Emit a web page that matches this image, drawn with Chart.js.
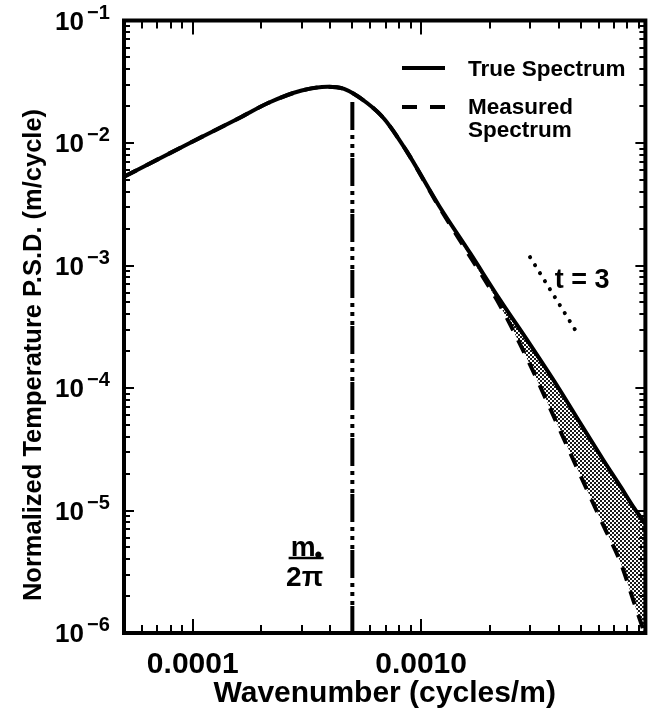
<!DOCTYPE html>
<html>
<head>
<meta charset="utf-8">
<script src="https://cdn.jsdelivr.net/npm/chart.js@4.4.1/dist/chart.umd.min.js"></script>
<style>
  html, body { margin: 0; padding: 0; background: #fff; }
  #wrap { position: relative; width: 653px; height: 715px; }
</style>
</head>
<body>
<div id="wrap"><canvas id="psd" width="653" height="715"></canvas></div>
<script>
// Wavenumber grid (cycles/m) shared by both spectra
const wavenumber = [5e-5, 1e-4, 1.6e-4, 2.15e-4, 3e-4, 3.9e-4, 4.6e-4, 5.8e-4, 6.9e-4, 8.6e-4,
                    1.2e-3, 1.64e-3, 2.22e-3, 3e-3, 4e-3, 5e-3, 6.3e-3, 7.5e-3, 8.5e-3, 9.6e-3];
// Normalized temperature P.S.D. (m/cycle)
const trueSpectrum = [5.3e-3, 1.03e-2, 1.6e-2, 2.13e-2, 2.68e-2, 2.88e-2, 2.76e-2, 2.12e-2, 1.57e-2, 8.7e-3,
                      3.06e-3, 1.26e-3, 5.22e-4, 2.27e-4, 1.0e-4, 5.1e-5, 2.56e-5, 1.55e-5, 1.07e-5, 7.8e-6];
const measuredSpectrum = [5.3e-3, 1.03e-2, 1.6e-2, 2.13e-2, 2.68e-2, 2.88e-2, 2.76e-2, 2.12e-2, 1.57e-2, 8.7e-3,
                          3.0e-3, 1.18e-3, 4.7e-4, 1.55e-4, 4.8e-5, 1.91e-5, 7.5e-6, 3.7e-6, 1.85e-6, 9.5e-7];
const seriesNames = ['True Spectrum', 'Measured Spectrum'];

// m*/2pi cut-off marker and the t = 3 slope guide
const cutoffWavenumber = 5e-4;
const cutoffSpan = [2.16e-2, 1e-6];
const slopeGuideX = [3.0e-3, 4.9e-3];
const slopeGuideY = [1.17e-3, 2.68e-4];
const slopeLabel = 't = 3';

// Axis ranges and labelled ticks
const xRange = [5e-5, 9.6e-3];
const yRange = [1e-6, 1e-1];
const xMajorTicks = [1e-4, 1e-3];
const xTickLabels = ['0.0001', '0.0010'];
const yMajorTicks = [1e-6, 1e-5, 1e-4, 1e-3, 1e-2, 1e-1];
const yTickExponents = ['\u22126', '\u22125', '\u22124', '\u22123', '\u22122', '\u22121'];
const xTitle = 'Wavenumber (cycles/m)';
const yTitle = 'Normalized Temperature P.S.D. (m/cycle)';

const FONT = "'Liberation Sans', Arial, Helvetica, sans-serif";

function logTicks(min, max) {
  const out = [];
  for (let e = Math.floor(Math.log10(min)); e <= Math.ceil(Math.log10(max)); e++) {
    for (let k = 1; k <= 9; k++) {
      const v = k * Math.pow(10, e);
      if (v >= min * 0.9999 && v <= max * 1.0001) out.push(v);
    }
  }
  return out;
}
const isDecade = v => Math.abs(Math.log10(v) - Math.round(Math.log10(v))) < 1e-9;
const sameValue = (a, b) => Math.abs(Math.log10(a / b)) < 1e-9;

// stipple used for the gap between true and measured spectra
function stipple(ctx) {
  const t = document.createElement('canvas');
  t.width = 4; t.height = 4;
  const g = t.getContext('2d');
  g.fillStyle = '#1a1a1a';
  g.fillRect(0, 0, 2, 2);
  g.fillRect(2, 2, 2, 2);
  return ctx.createPattern(t, 'repeat');
}

const pts = ys => wavenumber.map((x, i) => ({ x, y: ys[i] }));

// Frame with inward ticks on all sides, y labels, annotations and legend
const decorations = {
  id: 'decorations',
  afterDatasetsDraw(chart) {
    const { ctx, chartArea: a, scales: { x, y } } = chart;
    ctx.save();
    ctx.strokeStyle = '#000';
    ctx.fillStyle = '#000';

    // tick marks
    ctx.lineWidth = 2;
    ctx.beginPath();
    logTicks(xRange[0], xRange[1]).forEach(v => {
      const px = Math.round(x.getPixelForValue(v));
      const len = (isDecade(v) ? 12 : 6) + 2;
      ctx.moveTo(px, a.bottom); ctx.lineTo(px, a.bottom - len);
      ctx.moveTo(px, a.top); ctx.lineTo(px, a.top + len);
    });
    logTicks(yRange[0], yRange[1]).forEach(v => {
      const py = Math.round(y.getPixelForValue(v));
      const len = (isDecade(v) ? 8 : 4) + 2;
      ctx.moveTo(a.left, py); ctx.lineTo(a.left + len, py);
      ctx.moveTo(a.right, py); ctx.lineTo(a.right - len, py);
    });
    ctx.stroke();

    // frame
    ctx.lineWidth = 4;
    ctx.strokeRect(a.left, a.top, a.right - a.left, a.bottom - a.top);

    // y tick labels 10^-n
    yMajorTicks.forEach((v, i) => {
      const py = y.getPixelForValue(v);
      ctx.textBaseline = 'alphabetic';
      ctx.font = `bold 26px ${FONT}`;
      ctx.textAlign = 'right';
      ctx.fillText('10', 84, py + 9);
      ctx.font = `bold 20px ${FONT}`;
      ctx.textAlign = 'left';
      ctx.fillText(yTickExponents[i], 87, py - 2);
    });

    // y axis title
    ctx.save();
    ctx.translate(34, 355);
    ctx.rotate(-Math.PI / 2);
    ctx.font = `bold 25.5px ${FONT}`;
    ctx.textAlign = 'center';
    ctx.textBaseline = 'middle';
    ctx.fillText(yTitle, 0, 0);
    ctx.restore();

    // m*/2pi label next to the cut-off line
    const cx = x.getPixelForValue(3.09e-4);
    const cy = y.getPixelForValue(4.1e-6);
    ctx.font = `bold 28px ${FONT}`;
    ctx.textAlign = 'right';
    ctx.textBaseline = 'alphabetic';
    ctx.fillText('m', cx + 11, cy - 2);
    ctx.font = `bold 22px ${FONT}`;
    ctx.textAlign = 'left';
    ctx.fillText('\u2022', cx + 10, cy + 4);
    ctx.lineWidth = 2.5;
    ctx.beginPath();
    ctx.moveTo(cx - 16, cy); ctx.lineTo(cx + 19, cy);
    ctx.stroke();
    ctx.font = `bold 28px ${FONT}`;
    ctx.textAlign = 'center';
    ctx.fillText('2\u03C0', cx, cy + 28);

    // slope label
    ctx.font = `bold 27px ${FONT}`;
    ctx.textAlign = 'left';
    ctx.fillText(slopeLabel, x.getPixelForValue(3.85e-3), y.getPixelForValue(6.5e-4));

    // legend
    const lx0 = 402, lx1 = 445, tx = 468;
    ctx.lineWidth = 4;
    ctx.lineCap = 'butt';
    ctx.beginPath();
    ctx.moveTo(lx0, 68); ctx.lineTo(lx1, 68);
    ctx.stroke();
    ctx.setLineDash([15, 13]);
    ctx.beginPath();
    ctx.moveTo(lx0, 107); ctx.lineTo(lx1, 107);
    ctx.stroke();
    ctx.setLineDash([]);
    ctx.font = `bold 22.5px ${FONT}`;
    ctx.textAlign = 'left';
    ctx.fillText(seriesNames[0], tx, 76);
    const parts = seriesNames[1].split(' ');
    ctx.fillText(parts[0], tx, 114);
    ctx.fillText(parts[1], tx, 137);

    ctx.restore();
  }
};

const canvas = document.getElementById('psd');
const ctx2d = canvas.getContext('2d');

new Chart(ctx2d, {
  type: 'line',
  data: {
    datasets: [
      {
        label: seriesNames[0],
        data: pts(trueSpectrum),
        borderColor: '#000',
        borderWidth: 4,
        pointRadius: 0,
        cubicInterpolationMode: 'monotone',
        fill: false
      },
      {
        label: seriesNames[1],
        data: pts(measuredSpectrum),
        borderColor: '#000',
        borderWidth: 4,
        borderDash: [14, 11],
        pointRadius: 0,
        cubicInterpolationMode: 'monotone',
        fill: '-1',
        backgroundColor: stipple(ctx2d)
      },
      {
        label: 'cutoff',
        data: [{ x: cutoffWavenumber, y: cutoffSpan[0] }, { x: cutoffWavenumber, y: cutoffSpan[1] }],
        borderColor: '#000',
        borderWidth: 4,
        borderDash: [28, 5, 4, 5, 4, 5, 4, 1],
        borderCapStyle: 'butt',
        pointRadius: 0,
        fill: false
      },
      {
        label: 'slope',
        data: slopeGuideX.map((v, i) => ({ x: v, y: slopeGuideY[i] })),
        borderColor: '#000',
        borderWidth: 4,
        borderDash: [0.1, 9.3],
        borderCapStyle: 'round',
        pointRadius: 0,
        fill: false
      }
    ]
  },
  options: {
    responsive: false,
    animation: false,
    devicePixelRatio: 1,
    layout: { padding: { left: 124, right: 1, top: 20.5, bottom: 0 } },
    plugins: { legend: { display: false }, tooltip: { enabled: false } },
    scales: {
      x: {
        type: 'logarithmic',
        min: xRange[0],
        max: xRange[1],
        afterBuildTicks: s => { s.ticks = logTicks(xRange[0], xRange[1]).map(v => ({ value: v })); },
        afterFit: s => { s.height = 82; },
        grid: { display: false, drawTicks: false },
        border: { display: false },
        ticks: {
          autoSkip: false,
          maxRotation: 0,
          padding: 14,
          color: '#000',
          font: { family: FONT, weight: 'bold', size: 30 },
          callback: v => {
            const i = xMajorTicks.findIndex(m => sameValue(m, v));
            return i >= 0 ? xTickLabels[i] : '';
          }
        },
        title: {
          display: true,
          text: xTitle,
          color: '#000',
          font: { family: FONT, weight: 'bold', size: 30 },
          padding: { top: 0, bottom: 3 }
        }
      },
      y: {
        type: 'logarithmic',
        min: yRange[0],
        max: yRange[1],
        display: false
      }
    }
  },
  plugins: [decorations]
});
</script>
</body>
</html>
